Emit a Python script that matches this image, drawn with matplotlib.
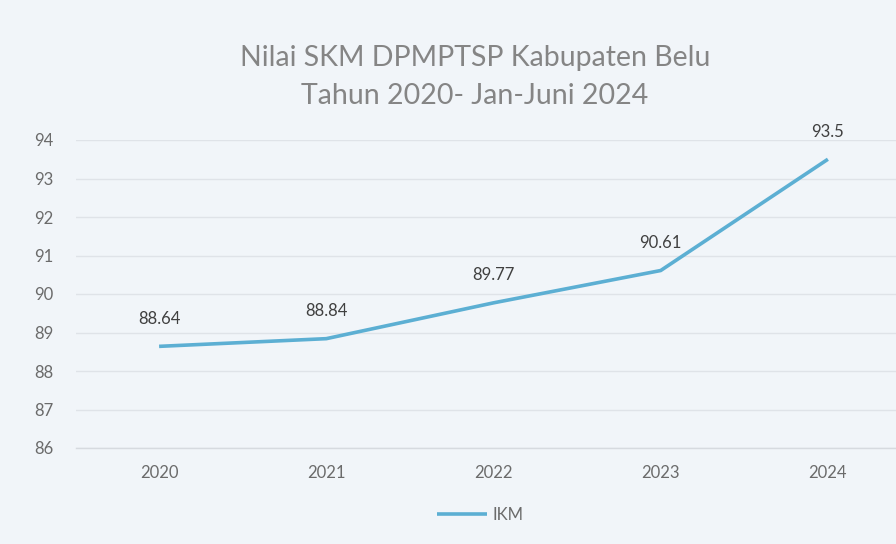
import matplotlib
matplotlib.use("Agg")
import matplotlib.pyplot as plt

years = ["2020", "2021", "2022", "2023", "2024"]
ikm = [88.64, 88.84, 89.77, 90.61, 93.5]
yticks = [86, 87, 88, 89, 90, 91, 92, 93, 94]
title_lines = ["Nilai SKM DPMPTSP Kabupaten Belu", "Tahun 2020- Jan-Juni 2024"]

plt.rcParams['font.family'] = ['Lato', 'DejaVu Sans']

W, H = 896, 544
fig = plt.figure(figsize=(W / 100, H / 100), dpi=100)
bg = '#f1f5f9'
fig.patch.set_facecolor(bg)

left, right = 75.5, 911.5
top, bottom = 140, 448
ax = fig.add_axes([left / W, 1 - bottom / H, (right - left) / W, (bottom - top) / H])
ax.set_facecolor(bg)

x = list(range(len(years)))
line, = ax.plot(x, ikm, color='#5cafd3', linewidth=2.6, solid_capstyle='butt', label='IKM')
for xi, v in zip(x, ikm):
    ax.annotate(f"{v:g}", (xi, v), xytext=(0, 14), textcoords='offset points',
                ha='center', va='bottom', fontsize=12, color='#404040')

ax.set_xlim(-0.5, len(years) - 0.5)
ax.set_ylim(86, 94)
ax.set_yticks(yticks)
ax.set_xticks(x)
ax.set_xticklabels(years)
ax.tick_params(axis='both', length=0, labelsize=12, labelcolor='#6b6b6b')
ax.tick_params(axis='y', pad=16)
ax.tick_params(axis='x', pad=12)
ax.grid(axis='y', color='#dfe3e8', linewidth=1)
ax.set_axisbelow(True)
for s in ['top', 'right', 'left']:
    ax.spines[s].set_visible(False)
ax.spines['bottom'].set_color('#d6dadf')
ax.spines['bottom'].set_linewidth(1)

fig.text(475 / W, 1 - 58 / H, title_lines[0], ha='center', va='center', fontsize=20.5, color='#858585')
fig.text(475 / W, 1 - 96 / H, title_lines[1], ha='center', va='center', fontsize=20.5, color='#858585')

fig.legend(handles=[line], labels=['IKM'], loc='center', bbox_to_anchor=(480 / W, 1 - 515 / H),
           frameon=False, fontsize=12, labelcolor='#6b6b6b', handlelength=3.0, handletextpad=0.3)

fig.savefig('out.png', dpi=100, facecolor=bg)
